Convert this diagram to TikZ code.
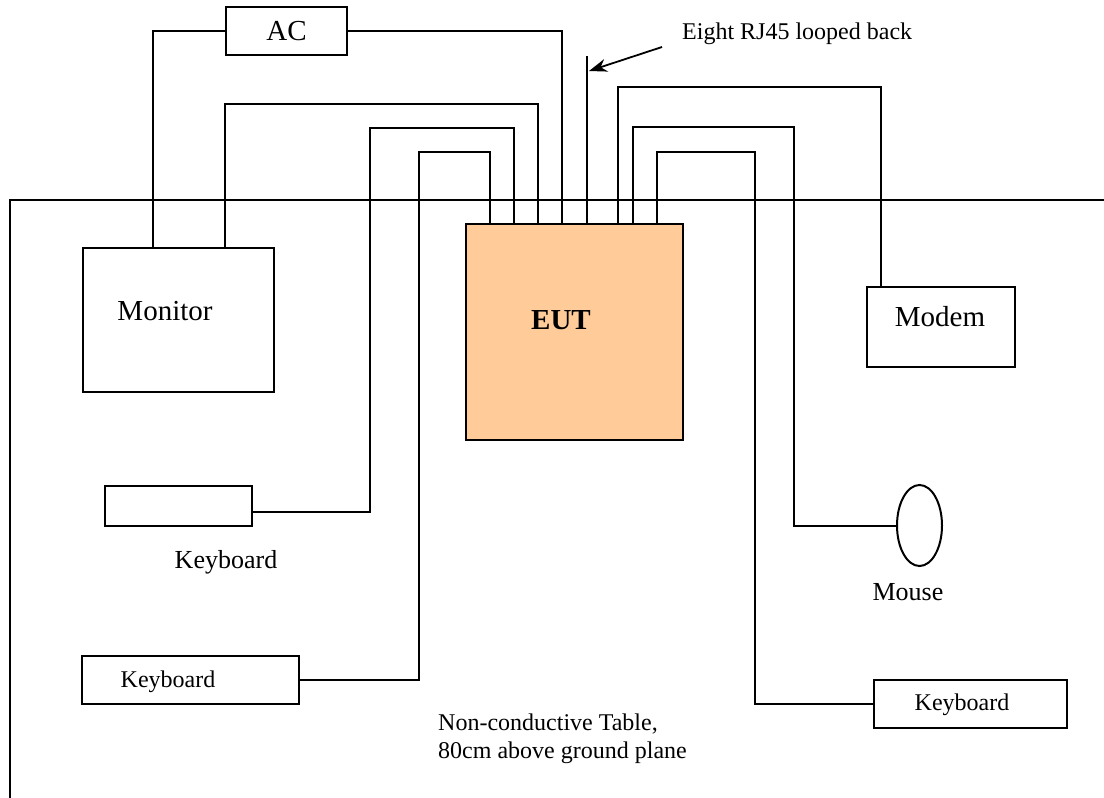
\documentclass[tikz,border=0pt]{standalone}
\usepackage{fontspec}
\setmainfont{Liberation Serif}
\usetikzlibrary{arrows.meta,shapes.geometric}
\definecolor{eutfill}{HTML}{FFCC99}
\begin{document}
\begin{tikzpicture}[x=1pt,y=-1pt,
  wire/.style={line width=2pt},
  box/.style={draw,line width=2pt,rectangle,inner sep=0pt},
  big/.style={font=\fontsize{29}{33}\selectfont},
  mid/.style={font=\fontsize{26}{30}\selectfont},
  small/.style={font=\fontsize{24}{28}\selectfont}]
\useasboundingbox (0,0) rectangle (1104,798);
% table outline
\coordinate (tl) at (10,200);
\coordinate (tr) at (1110,200);
\coordinate (bl) at (10,800);
\draw[wire] (tr) -- (tl) -- (bl);
% boxes
\node[box,minimum width=121pt,minimum height=48pt,big] (ac) at (286.5,31) {AC};
\node[box,minimum width=191pt,minimum height=144pt] (mon) at (178.5,320) {};
\node[big] (montxt) at (165,311) {Monitor};
\node[box,fill=eutfill,minimum width=217pt,minimum height=216pt] (eut) at (574.5,332) {};
\node[big,font=\fontsize{29}{33}\selectfont\bfseries] (euttxt) at (561,320) {EUT};
\node[box,minimum width=148pt,minimum height=80pt] (modem) at (941,327) {};
\node[big] (modemtxt) at (940,317) {Modem};
\node[box,minimum width=147pt,minimum height=40pt] (kb1) at (178.5,506) {};
\node[mid] (kb1txt) at (226,562) {Keyboard};
\node[box,minimum width=217pt,minimum height=48pt] (kb2) at (190.5,680) {};
\node[small] (kb2txt) at (168,682) {Keyboard};
\node[box,minimum width=193pt,minimum height=48pt] (kb3) at (970.5,704) {};
\node[small] (kb3txt) at (962,705) {Keyboard};
\node[draw,line width=2pt,ellipse,inner sep=0pt,minimum width=45pt,minimum height=81pt] (mouse) at (919.5,525.5) {};
\node[mid] (mousetxt) at (908,592) {Mouse};
% connectors
\draw[wire] ([xshift=71pt]mon.north west) |- (ac.west);
\draw[wire] (ac.east) -| ([xshift=97pt]eut.north west);
\draw[wire] ([xshift=143pt]mon.north west) |- (380,104) -| ([xshift=73pt]eut.north west);
\draw[wire] ([yshift=-6pt]kb1.east) -| (370,128) -| ([xshift=49pt]eut.north west);
\draw[wire] (kb2.east) -| (419,152) -| ([xshift=25pt]eut.north west);
\draw[wire] ([xshift=15pt]modem.north west) |- (700,87) -| ([xshift=153pt]eut.north west);
\draw[wire] (mouse.west) -| (794,127) -| ([xshift=168pt]eut.north west);
\draw[wire] (kb3.west) -| (755,152) -| ([xshift=192pt]eut.north west);
% looped-back RJ45
\coordinate (rjtop) at (587,56);
\draw[wire] (rjtop) -- (rjtop |- eut.north);
\node[small,anchor=west,inner sep=0pt] (rjtxt) at (682,34) {Eight RJ45 looped back};
\coordinate (arrs) at (662,47);
\coordinate (arre) at (589,71);
\draw[line width=1.8pt,-{Stealth[length=18pt,width=13pt]}] (arrs) -- (arre);
% table text
\node[small,anchor=north west,align=left,inner sep=0pt] (tabletxt) at (438,714) {Non-conductive Table,\\80cm above ground plane};
\end{tikzpicture}
\end{document}
